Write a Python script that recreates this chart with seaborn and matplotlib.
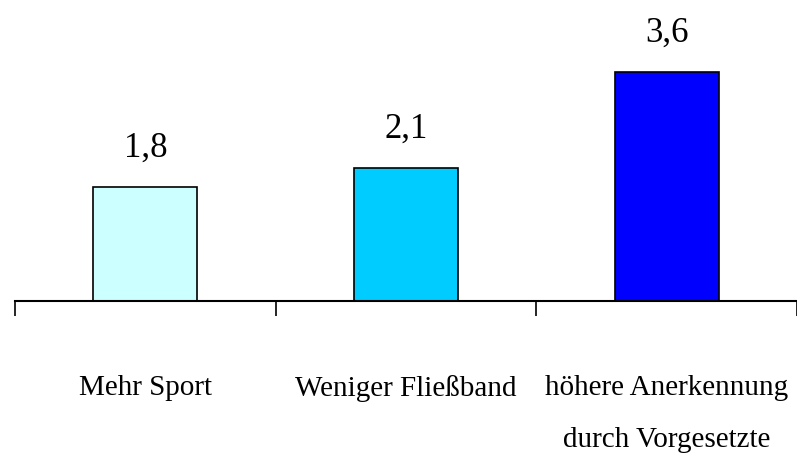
import numpy as np
import pandas as pd
import matplotlib.pyplot as plt
import seaborn as sns

# data
categories = ["Mehr Sport", "Weniger Fließband", "höhere Anerkennung\ndurch Vorgesetzte"]
values = [1.8, 2.1, 3.6]
value_labels = ["1,8", "2,1", "3,6"]
bar_colors = ["#CCFFFF", "#00CCFF", "#0000FF"]

df = pd.DataFrame({"Kategorie": categories, "Wert": values})

sns.set_style("white")
plt.rcParams["font.family"] = ["Liberation Serif", "DejaVu Serif"]
plt.rcParams["text.color"] = "black"
plt.rcParams["xtick.color"] = "black"

fig = plt.figure(figsize=(7.97, 4.72), dpi=100)
ax = fig.add_axes([15/797, 171/472, 782/797, 286/472])

sns.barplot(data=df, x="Kategorie", y="Wert", hue="Kategorie",
            palette=bar_colors, saturation=1, width=0.4, edgecolor="black",
            linewidth=1.2, legend=False, ax=ax)

for i, (v, lab) in enumerate(zip(values, value_labels)):
    ax.annotate(lab, (i, v), xytext=(0, 16), textcoords="offset points",
                ha="center", va="bottom", fontsize=25, color="black")

ax.set_xlim(-0.5, 2.5)
ax.set_ylim(0, 4.5)
sns.despine(ax=ax, left=True)
ax.spines["bottom"].set_linewidth(1.5)
ax.spines["bottom"].set_color("black")
ax.set_yticks([])

# boundary ticks without labels, category labels centred under the bars
ax.set_xticks(np.arange(-0.5, len(categories), 1.0))
ax.set_xticklabels([])
ax.tick_params(axis="x", which="major", bottom=True, direction="out",
               length=11, width=1.2, color="black")
ax.set_xticks(range(len(categories)), minor=True)
ax.set_xticklabels(categories, minor=True, fontsize=21, linespacing=2.3, color="black")
ax.tick_params(axis="x", which="minor", bottom=True, length=0, pad=53)

ax.set_xlabel("")
ax.set_ylabel("")
fig.savefig("out.png", dpi=100)
